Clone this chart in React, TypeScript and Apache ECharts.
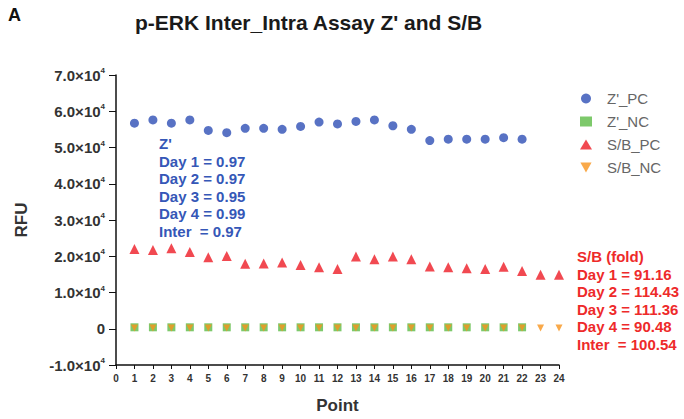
import React, { useEffect, useRef } from "react";
import * as echarts from "echarts";

const points: number[] = Array.from({ length: 24 }, (_, i) => i + 1);
const zPC: number[] = [56700, 57600, 56700, 57600, 54700, 54100, 55300, 55300, 55000, 55800, 57000, 56500, 57200, 57600, 56000, 55000, 51900, 52300, 52300, 52300, 52700, 52300];
const zNC: number[] = [400, 400, 400, 400, 400, 400, 400, 400, 400, 400, 400, 400, 400, 400, 400, 400, 400, 400, 400, 400, 400, 400];
const sbPC: number[] = [22000, 21700, 22200, 21200, 19700, 20100, 17900, 18000, 18300, 17600, 17000, 16500, 19900, 19200, 19900, 19200, 17200, 17000, 16700, 16500, 17100, 15900, 14900, 14900];
const sbNC: number[] = [200, 200, 200, 200, 200, 200, 200, 200, 200, 200, 200, 200, 200, 200, 200, 200, 200, 200, 200, 200, 200, 200, 200, 200];
const seriesNames: string[] = ["Z'_PC", "Z'_NC", "S/B_PC", "S/B_NC"];
const zLines: string[] = ["Z'", "Day 1 = 0.97", "Day 2 = 0.97", "Day 3 = 0.95", "Day 4 = 0.99", "Inter  = 0.97"];
const sbLines: string[] = ["S/B (fold)", "Day 1 = 91.16", "Day 2 = 114.43", "Day 3 = 111.36", "Day 4 = 90.48", "Inter  = 100.54"];

const BLUE = "#2E4FB5";
const GREEN = "#5DBB46";
const RED = "#EE1C25";
const ORANGE = "#F7941D";
const FONT = "'Liberation Sans', Arial, sans-serif";

function pairs(vals: number[]): number[][] {
  return vals.map((v, i) => [points[i], v]);
}

export default function App() {
  const ref = useRef<HTMLDivElement>(null);
  useEffect(() => {
    if (!ref.current) return;
    const chart = echarts.init(ref.current, null, { renderer: "svg" });
    const textBlock = (lines: string[], x: number, y0: number, color: string) =>
      lines.map((t, i) => ({
        type: "text",
        left: x,
        top: y0 + i * 17.5 - 9,
        style: { text: t, fill: color, font: `bold 15px ${FONT}` },
      }));
    chart.setOption({
      animation: false,
      textStyle: { fontFamily: FONT },
      title: {
        text: "p-ERK Inter_Intra Assay Z' and S/B",
        left: 135,
        top: 12,
        padding: 0,
        textStyle: { fontSize: 21, fontWeight: "bold", color: "#1a1a1a", fontFamily: FONT },
      },
      legend: {
        orient: "vertical",
        left: 575,
        top: 86,
        itemWidth: 12,
        itemHeight: 10,
        itemGap: 8,
        textStyle: { fontSize: 15, color: "#666", lineHeight: 15, padding: [0, 0, 0, 10], fontFamily: FONT },
        data: [
          { name: seriesNames[0], icon: "circle" },
          { name: seriesNames[1], icon: "rect" },
          { name: seriesNames[2], icon: "triangle" },
          { name: seriesNames[3], icon: "path://M0,0L10,0L5,9Z" },
        ],
      },
      grid: { left: 116, top: 75, width: 443, height: 292 },
      xAxis: {
        type: "value",
        min: 0,
        max: 24,
        interval: 1,
        name: "Point",
        nameLocation: "middle",
        nameGap: 32,
        nameTextStyle: { fontSize: 17, fontWeight: "bold", color: "#333", fontFamily: FONT },
        axisLine: { onZero: false, lineStyle: { color: "#111", width: 1.5 } },
        axisTick: { show: true, length: 4, lineStyle: { color: "#111" } },
        axisLabel: { fontSize: 10, fontWeight: "bold", color: "#333", margin: 8 },
        splitLine: { show: false },
      },
      yAxis: {
        type: "value",
        min: -10000,
        max: 70000,
        interval: 10000,
        name: "RFU",
        nameLocation: "middle",
        nameGap: 86,
        nameTextStyle: { fontSize: 17, fontWeight: "bold", color: "#333", fontFamily: FONT },
        axisLine: { show: true, lineStyle: { color: "#111", width: 1.5 } },
        axisTick: { show: true, length: 7, lineStyle: { color: "#111" } },
        axisLabel: {
          margin: 11,
          formatter: (v: number) => (v === 0 ? "{b|0}" : `{b|${(v / 10000).toFixed(1)}×10}{s|4}`),
          rich: {
            b: { fontSize: 15, fontWeight: "bold", color: "#333", lineHeight: 17, fontFamily: FONT },
            s: { fontSize: 8, fontWeight: "bold", color: "#333", verticalAlign: "top", lineHeight: 17, fontFamily: FONT },
          },
        },
        splitLine: { show: false },
      },
      series: [
        { name: seriesNames[0], type: "scatter", symbol: "circle", symbolSize: 9, itemStyle: { color: BLUE }, data: pairs(zPC) },
        { name: seriesNames[1], type: "scatter", symbol: "rect", symbolSize: 8, itemStyle: { color: GREEN }, data: pairs(zNC) },
        { name: seriesNames[2], type: "scatter", symbol: "triangle", symbolSize: 10, itemStyle: { color: RED }, data: pairs(sbPC) },
        { name: seriesNames[3], type: "scatter", symbol: "triangle", symbolRotate: 180, symbolSize: 7, itemStyle: { color: ORANGE }, data: pairs(sbNC) },
      ],
      graphic: [
        { type: "text", left: 8, top: 6, style: { text: "A", fill: "#111", font: `bold 18px ${FONT}` } },
        ...textBlock(zLines, 159, 145, "#3557B7"),
        ...textBlock(sbLines, 577, 258, "#EE2A2A"),
      ],
    });
    return () => chart.dispose();
  }, []);
  return <div ref={ref} style={{ position: "absolute", left: 0, top: 0, width: 684, height: 419 }} />;
}
